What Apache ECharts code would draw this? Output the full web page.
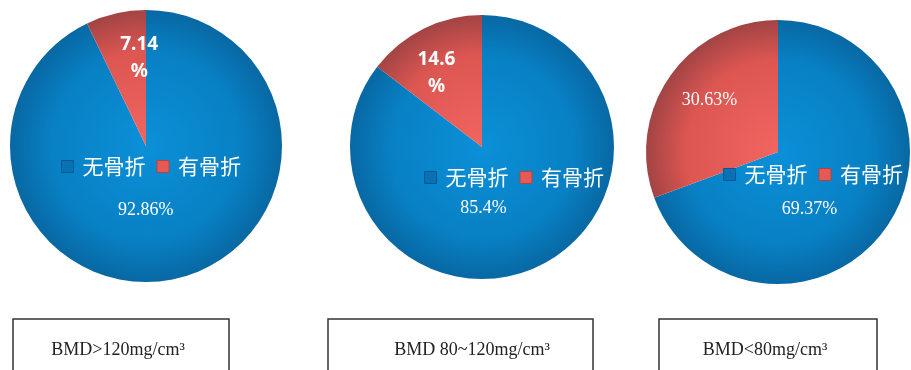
<!DOCTYPE html>
<html>
<head>
<meta charset="utf-8">
<script src="https://cdn.jsdelivr.net/npm/echarts@6/dist/echarts.min.js"></script>
<style>
  html, body { margin: 0; padding: 0; background: #fff; }
  #chart { width: 911px; height: 370px; }
</style>
</head>
<body>
<div id="chart"></div>
<script>
// data
const categories = ['无骨折', '有骨折'];
const groupLabels = ['BMD>120mg/cm³', 'BMD 80~120mg/cm³', 'BMD<80mg/cm³'];
const noFracture = [92.86, 85.4, 69.37];
const withFracture = [7.14, 14.6, 30.63];

// layout of the three pies
const pies = [
  { center: [146, 146], r: 136, legend: [61, 156], box: [13, 216, 118], split: true,
    offs: [[-16, -5], [9, -19]] },
  { center: [482, 147], r: 132, legend: [424, 167], box: [328, 265, 472], split: true,
    offs: [[-29, -1], [-15, -12]] },
  { center: [778, 152], r: 132, legend: [723, 164], box: [659, 218, 765], split: false,
    offs: [[-25, 18], [-12, -12]] }
];

const blueStops = ['#0b90d8', '#0880c4', '#0868a3'];
const redStops = ['#f26560', '#dc5652', '#a24444'];

function grad(p, stops) {
  return {
    type: 'radial', global: true,
    x: p.center[0], y: p.center[1], r: p.r,
    colorStops: [
      { offset: 0, color: stops[0] },
      { offset: 0.7, color: stops[1] },
      { offset: 1, color: stops[2] }
    ]
  };
}

var myChart = echarts.init(document.getElementById('chart'));

const series = pies.map((p, i) => ({
  type: 'pie',
  center: p.center,
  radius: [0, p.r],
  startAngle: 90,
  clockwise: true,
  silent: true,
  label: {
    show: true,
    position: 'inside',
    formatter(params) {
      if (params.dataIndex === 1 && p.split) {
        return '{b|' + params.value + '}\n{b|%}';
      }
      return '{s|' + params.value + '%}';
    },
    rich: {
      b: { fontFamily: 'Noto Sans', fontWeight: 'bold', fontSize: 19, color: '#fff', lineHeight: 27 },
      s: { fontFamily: 'Liberation Serif', fontSize: 18, color: '#fff' }
    }
  },
  labelLine: { show: false },
  labelLayout(params) {
    const o = p.offs[params.dataIndex];
    return { dx: o[0], dy: o[1] };
  },
  data: [
    { name: categories[0], value: noFracture[i], itemStyle: { color: grad(p, blueStops) } },
    { name: categories[1], value: withFracture[i], itemStyle: { color: grad(p, redStops) } }
  ]
}));

const legends = pies.map(p => ({
  left: p.legend[0],
  top: p.legend[1],
  orient: 'horizontal',
  padding: 0,
  icon: 'rect',
  itemWidth: 12,
  itemHeight: 12,
  itemGap: 11,
  selectedMode: false,
  textStyle: {
    color: '#fff',
    fontSize: 21,
    fontFamily: 'Noto Sans CJK SC',
    padding: [0, 0, 0, 4]
  },
  data: [
    { name: categories[0], itemStyle: { color: '#0a72b4', borderColor: '#085a8e', borderWidth: 1 } },
    { name: categories[1], itemStyle: { color: '#e55a55', borderColor: '#b04444', borderWidth: 1 } }
  ]
}));

const graphic = [];
pies.forEach((p, i) => {
  graphic.push({
    type: 'rect',
    shape: { x: p.box[0], y: 319, width: p.box[1], height: 70 },
    style: { fill: '#fff', stroke: '#333', lineWidth: 1.5 },
    z: 0
  });
  graphic.push({
    type: 'text',
    x: p.box[2],
    y: 350,
    style: {
      text: groupLabels[i],
      fill: '#222',
      font: '18px "Liberation Serif"',
      textAlign: 'center',
      textVerticalAlign: 'middle'
    },
    z: 1
  });
});

myChart.setOption({
  animation: false,
  legend: legends,
  series: series,
  graphic: graphic
});
</script>
</body>
</html>
